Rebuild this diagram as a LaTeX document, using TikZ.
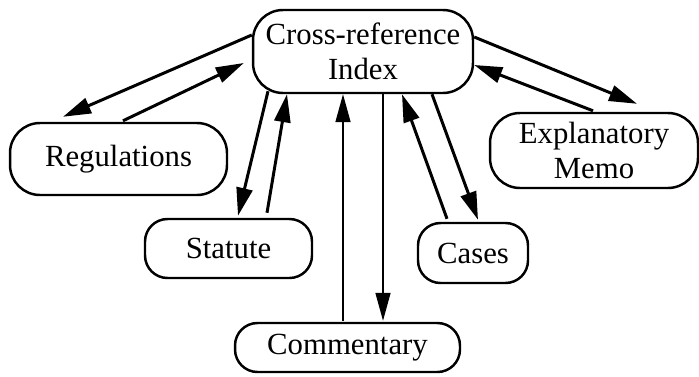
\documentclass[tikz,border=0pt]{standalone}
\usepackage{fontspec}
\setmainfont{Liberation Serif}
\usetikzlibrary{arrows.meta,calc}

\begin{document}
\begin{tikzpicture}[
    x=0.02cm, y=-0.02cm,
    font=\fontsize{17.5}{20}\selectfont,
    doc/.style={rectangle, rounded corners=0.45cm, draw=black,
                line width=1.4pt, fill=white, align=center,
                inner sep=2pt},
    link/.style={line width=1.7pt,
                 -{Triangle[length=0.56cm, width=0.32cm]}},
    thinlink/.style={line width=0.9pt,
                     -{Triangle[length=0.56cm, width=0.3cm]}}
]
\useasboundingbox (0,0) rectangle (699,376);

% central index
\node[doc, minimum width=4.4cm, minimum height=1.66cm, rounded corners=0.6cm] (idx) at (363,51.5)
    {Cross-reference\\Index};

% source documents
\node[doc, minimum width=4.34cm, minimum height=1.44cm, rounded corners=0.6cm] (reg) at (118.5,159) {Regulations};
\node[doc, minimum width=3.34cm, minimum height=1.18cm] (stat) at (228.5,248.5) {Statute};
\node[doc, minimum width=4.5cm, minimum height=0.98cm] (com) at (347.5,347.5) {Commentary};
\node[doc, minimum width=2.2cm, minimum height=1.2cm] (cas) at (473,253) {Cases};
\node[doc, minimum width=4.16cm, minimum height=1.5cm, rounded corners=0.6cm] (expl) at (594,150.5)
    {Explanatory\\Memo};

% Regulations
\draw[link] ($(idx.west)+(0,-16.5)$) -- ($(reg.north)+(-55.5,-5)$);
\draw[link] ($(reg.north)+(4.5,-1)$) -- ($(idx.west)+(-8,11.5)$);

% Statute
\draw[link] ($(idx.south)+(-95,-3)$) -- ($(stat.north)+(9.5,-2)$);
\draw[link] ($(stat.north)+(38.5,-5)$) -- ($(idx.south)+(-76,0)$);

% Commentary
\draw[thinlink] ($(com.north)+(-4.5,-1)$) -- ($(idx.south)+(-20,0)$);
\draw[thinlink] ($(idx.south)+(20,0)$) -- ($(com.north)+(35.5,-1)$);

% Cases
\draw[link] ($(cas.north)+(-26,-3)$) -- ($(idx.south)+(39,0)$);
\draw[link] ($(idx.south)+(69,0)$) -- ($(cas.north)+(5,-2)$);

% Explanatory Memo
\draw[link] ($(idx.east)+(0,-14.5)$) -- ($(expl.north)+(43,-8)$);
\draw[link] ($(expl.north)+(-1,-1)$) -- ($(idx.east)+(0,13.5)$);

\end{tikzpicture}
\end{document}
